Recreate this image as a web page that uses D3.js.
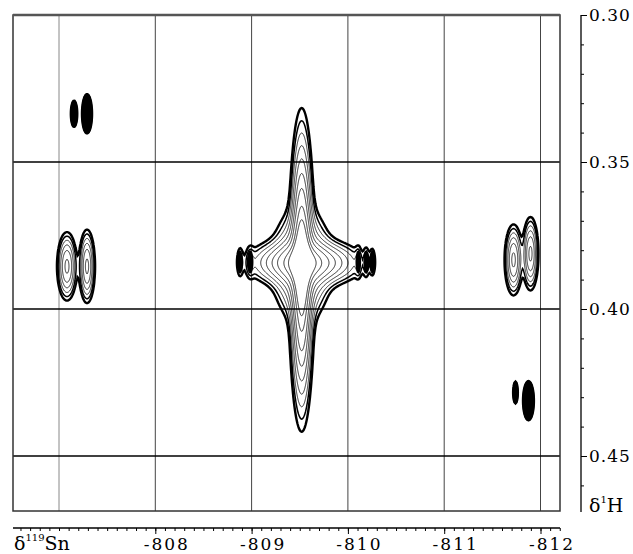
<!DOCTYPE html>
<html>
<head>
<meta charset="utf-8">
<script src="https://cdn.jsdelivr.net/npm/d3@7"></script>
<style>
  body { margin: 0; background: #fff; }
  svg text { font-family: "DejaVu Serif", "Liberation Serif", serif; fill: #000; }
</style>
</head>
<body>
<script>
const width = 633;
const height = 554;
const frame = { left: 13, right: 560, top: 15, bottom: 511 };

// axes (ppm)
const snTicks = [-808, -809, -810, -811, -812];
const snGrid = [-807, -808, -809, -810, -811, -812];
const hTicks = [0.30, 0.35, 0.40, 0.45];
const hGrid = [0.35, 0.40, 0.45];

// cross peaks: centre, width (ppm), relative height
const peakSn  = [-809.52, -809.55, -809.52, -808.88, -808.985, -810.108, -810.19, -810.254,
                 -807.083, -807.291, -807.156, -807.291,
                 -811.72, -811.896, -811.74, -811.875];
const peakH   = [0.3867, 0.3843, 0.385, 0.384, 0.384, 0.384, 0.384, 0.384,
                 0.3855, 0.3855, 0.3336, 0.3336,
                 0.3833, 0.3812, 0.4284, 0.4312];
const peakWSn = [0.055, 0.27, 0.14, 0.02, 0.025, 0.02, 0.02, 0.02,
                 0.05, 0.04, 0.022, 0.035,
                 0.045, 0.04, 0.016, 0.038];
const peakWH  = [0.0217, 0.0038, 0.009, 0.0035, 0.0035, 0.0035, 0.0035, 0.0035,
                 0.0056, 0.006, 0.003, 0.0045,
                 0.0058, 0.006, 0.0025, 0.0045];
const peakAmp = [1.0, 0.6, 0.5, 0.07, 0.07, 0.07, 0.07, 0.07,
                 0.35, 0.35, 0.12, 0.12,
                 0.35, 0.35, 0.12, 0.12];

const levels = [0.04, 0.065, 0.1, 0.15, 0.22, 0.32, 0.45, 0.65, 0.85];

const svg = d3.select("body").append("svg")
  .attr("width", width)
  .attr("height", height);

const x = d3.scaleLinear().domain([-807, -812]).range([59, 540.5]);
const y = d3.scaleLinear().domain([0.30, 0.45]).range([15, 456]);

// grid of intensities over the plot area
const nx = frame.right - frame.left;
const ny = frame.bottom - frame.top;

function sampleGrid(keep) {
  const values = new Float64Array(nx * ny);
  for (let j = 0; j < ny; j++) {
    const h = y.invert(frame.top + j + 0.5);
    for (let i = 0; i < nx; i++) {
      const sn = x.invert(frame.left + i + 0.5);
      let v = 0;
      for (let k = 0; k < peakAmp.length; k++) {
        if (!keep(k)) continue;
        const a = (sn - peakSn[k]) / peakWSn[k];
        const b = (h - peakH[k]) / peakWH[k];
        v += peakAmp[k] * Math.exp(-0.5 * (a * a + b * b));
      }
      values[j * nx + i] = v;
    }
  }
  return values;
}

const allValues = sampleGrid(() => true);
// weak peaks print as solid blots
const weakValues = sampleGrid(k => peakAmp[k] < 0.15);

// grid lines
svg.append("g")
  .selectAll("line")
  .data(snGrid)
  .join("line")
  .attr("x1", d => x(d)).attr("x2", d => x(d))
  .attr("y1", frame.top).attr("y2", frame.bottom)
  .attr("stroke", (d, i) => (i === 0 ? "#888" : "#444"))
  .attr("stroke-width", 1);

svg.append("g")
  .selectAll("line")
  .data(hGrid)
  .join("line")
  .attr("x1", frame.left).attr("x2", frame.right)
  .attr("y1", d => y(d)).attr("y2", d => y(d))
  .attr("stroke", "#000")
  .attr("stroke-width", 1.3);

// contours
const plot = svg.append("g")
  .attr("transform", `translate(${frame.left},${frame.top})`);

const blots = d3.contours().size([nx, ny]).thresholds([levels[0]])(weakValues);
plot.append("g")
  .selectAll("path")
  .data(blots)
  .join("path")
  .attr("d", d3.geoPath())
  .attr("fill", "#000")
  .attr("stroke", "#000")
  .attr("stroke-width", 1.5);

const contours = d3.contours().size([nx, ny]).thresholds(levels)(allValues);
plot.append("g")
  .selectAll("path")
  .data(contours)
  .join("path")
  .attr("d", d3.geoPath())
  .attr("fill", "none")
  .attr("stroke", "#000")
  .attr("stroke-width", (d, i) => (i === 0 ? 2.4 : i === 1 ? 1.5 : 0.8));

// frame
svg.append("rect")
  .attr("x", frame.left).attr("y", frame.top)
  .attr("width", frame.right - frame.left)
  .attr("height", frame.bottom - frame.top)
  .attr("fill", "none")
  .attr("stroke", "#333")
  .attr("stroke-width", 1.5);

svg.append("line")
  .attr("x1", frame.left).attr("x2", frame.right)
  .attr("y1", frame.top).attr("y2", frame.top)
  .attr("stroke", "#555")
  .attr("stroke-width", 2.5);

// bottom ruler (δ119Sn)
const rulerY = 528;
const snMinor = d3.range(-806.6, -812.25, -0.1).map(v => Math.round(v * 10) / 10);

svg.append("g")
  .attr("transform", `translate(0,${rulerY})`)
  .call(d3.axisBottom(x).tickValues(snMinor).tickSize(3).tickFormat(""))
  .call(g => g.select(".domain").remove());

const xAxis = svg.append("g")
  .attr("transform", `translate(0,${rulerY})`)
  .call(d3.axisBottom(x).tickValues(snTicks).tickSize(6).tickPadding(4).tickFormat(d => d));
xAxis.select(".domain").remove();
xAxis.selectAll("text")
  .attr("x", 11)
  .attr("font-size", 17)
  .attr("letter-spacing", 2)
  .attr("font-family", null);

svg.append("line")
  .attr("x1", frame.left).attr("x2", frame.right)
  .attr("y1", rulerY).attr("y2", rulerY)
  .attr("stroke", "#000")
  .attr("stroke-width", 1.3);

const snLabel = svg.append("text").attr("x", 14).attr("y", 550);
snLabel.append("tspan").attr("font-size", 19).text("δ");
snLabel.append("tspan").attr("font-size", 10).attr("dy", -9).text("119");
snLabel.append("tspan").attr("font-size", 19).attr("dy", 9).text("Sn");

// right axis (δ1H)
const axisX = 581;
const hMinor = d3.range(30, 47).map(v => v / 100);

svg.append("g")
  .attr("transform", `translate(${axisX},0)`)
  .call(d3.axisRight(y).tickValues(hMinor).tickSize(3).tickFormat(""))
  .call(g => g.select(".domain").remove());

const yAxis = svg.append("g")
  .attr("transform", `translate(${axisX},0)`)
  .call(d3.axisRight(y).tickValues(hTicks).tickSize(6).tickPadding(2).tickFormat(d3.format(".2f")));
yAxis.select(".domain").remove();
yAxis.selectAll("text")
  .attr("font-size", 17)
  .attr("letter-spacing", 1)
  .attr("font-family", null);

svg.append("line")
  .attr("x1", axisX).attr("x2", axisX)
  .attr("y1", y(0.30)).attr("y2", frame.bottom + 1)
  .attr("stroke", "#000")
  .attr("stroke-width", 1.3);

const hLabel = svg.append("text").attr("x", 589).attr("y", 512);
hLabel.append("tspan").attr("font-size", 19).text("δ");
hLabel.append("tspan").attr("font-size", 10).attr("dy", -9).text("1");
hLabel.append("tspan").attr("font-size", 19).attr("dy", 9).text("H");
</script>
</body>
</html>
